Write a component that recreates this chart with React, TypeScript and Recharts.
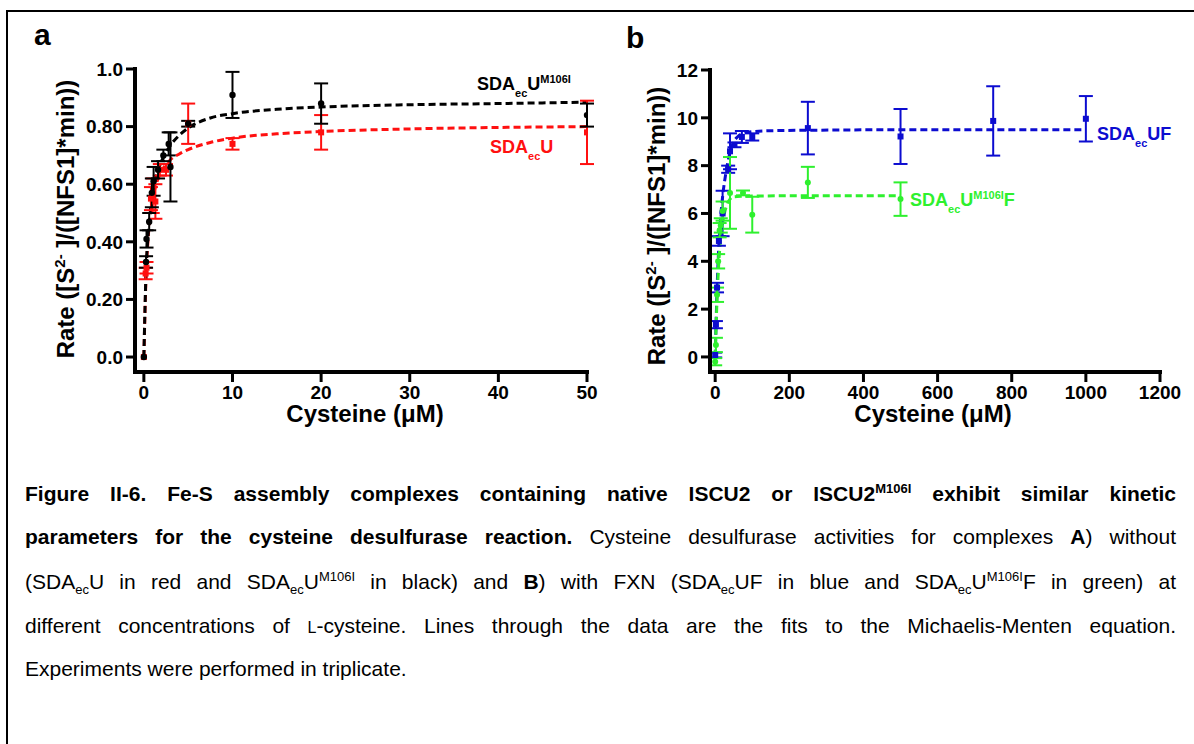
import React from 'react';
import { ComposedChart, Scatter, Line, XAxis, YAxis, ErrorBar } from 'recharts';

const FONT = '"Liberation Sans", Arial, Helvetica, sans-serif';

// ---- panel a: complexes without FXN ----
const aXTicks = [0, 10, 20, 30, 40, 50];
const aYTicks = [0, 0.2, 0.4, 0.6, 0.8, 1.0];
const aYTickLabels = ['0.0', '0.20', '0.40', '0.60', '0.80', '1.0'];

// SDAecU(M106I), black
const m106iPoints = [
  { x: 0, y: 0, e: 0 },
  { x: 0.25, y: 0.33, e: 0.02 },
  { x: 0.3, y: 0.41, e: 0.03 },
  { x: 0.6, y: 0.47, e: 0.03 },
  { x: 0.9, y: 0.57, e: 0.05 },
  { x: 1.1, y: 0.61, e: 0.05 },
  { x: 1.6, y: 0.65, e: 0.03 },
  { x: 2.2, y: 0.7, e: 0.02 },
  { x: 2.8, y: 0.74, e: 0.04 },
  { x: 3.0, y: 0.66, e: 0.12 },
  { x: 5, y: 0.81, e: 0.01 },
  { x: 10, y: 0.91, e: 0.08 },
  { x: 20, y: 0.88, e: 0.07 },
  { x: 50, y: 0.84, e: 0.04 },
];
const m106iFit = [
  { x: 0, y: 0 }, { x: 0.25, y: 0.3 }, { x: 0.5, y: 0.43 }, { x: 0.75, y: 0.51 },
  { x: 1, y: 0.57 }, { x: 1.5, y: 0.64 }, { x: 2, y: 0.68 }, { x: 3, y: 0.735 },
  { x: 4, y: 0.77 }, { x: 5, y: 0.795 }, { x: 7.5, y: 0.83 }, { x: 10, y: 0.845 },
  { x: 15, y: 0.86 }, { x: 20, y: 0.868 }, { x: 30, y: 0.876 }, { x: 40, y: 0.88 },
  { x: 50, y: 0.885 },
];

// SDAecU, red
const nativePoints = [
  { x: 0, y: 0, e: 0 },
  { x: 0.2, y: 0.29, e: 0.02 },
  { x: 0.3, y: 0.31, e: 0.02 },
  { x: 0.8, y: 0.55, e: 0.04 },
  { x: 1.0, y: 0.56, e: 0.06 },
  { x: 1.3, y: 0.54, e: 0.06 },
  { x: 1.8, y: 0.65, e: 0.02 },
  { x: 2.5, y: 0.65, e: 0.02 },
  { x: 5, y: 0.81, e: 0.07 },
  { x: 10, y: 0.74, e: 0.02 },
  { x: 20, y: 0.78, e: 0.06 },
  { x: 50, y: 0.78, e: 0.11 },
];
const nativeFit = [
  { x: 0, y: 0 }, { x: 0.25, y: 0.28 }, { x: 0.5, y: 0.42 }, { x: 0.75, y: 0.5 },
  { x: 1, y: 0.55 }, { x: 1.5, y: 0.61 }, { x: 2, y: 0.645 }, { x: 3, y: 0.685 },
  { x: 4, y: 0.705 }, { x: 5, y: 0.72 }, { x: 7.5, y: 0.745 }, { x: 10, y: 0.76 },
  { x: 15, y: 0.775 }, { x: 20, y: 0.783 }, { x: 30, y: 0.792 }, { x: 40, y: 0.797 },
  { x: 50, y: 0.8 },
];

// ---- panel b: complexes with FXN ----
const bXTicks = [0, 200, 400, 600, 800, 1000, 1200];
const bYTicks = [0, 2, 4, 6, 8, 10, 12];

// SDAecUF, blue
const ufPoints = [
  { x: 0, y: 0.08, e: 0.1 },
  { x: 2, y: 1.35, e: 0.15 },
  { x: 5, y: 2.9, e: 0.2 },
  { x: 10, y: 4.85, e: 0.2 },
  { x: 20, y: 6.0, e: 0.95 },
  { x: 35, y: 7.85, e: 0.15 },
  { x: 40, y: 8.6, e: 0.75 },
  { x: 52, y: 8.87, e: 0.1 },
  { x: 72, y: 9.2, e: 0.25 },
  { x: 100, y: 9.2, e: 0.15 },
  { x: 250, y: 9.57, e: 1.1 },
  { x: 500, y: 9.22, e: 1.15 },
  { x: 750, y: 9.87, e: 1.45 },
  { x: 1000, y: 9.96, e: 0.95 },
];
const ufFit = [
  { x: 0, y: 0 }, { x: 5, y: 2.8 }, { x: 10, y: 4.7 }, { x: 15, y: 5.9 },
  { x: 20, y: 6.7 }, { x: 30, y: 7.8 }, { x: 40, y: 8.55 }, { x: 50, y: 9.0 },
  { x: 60, y: 9.2 }, { x: 75, y: 9.35 }, { x: 100, y: 9.42 }, { x: 150, y: 9.46 },
  { x: 250, y: 9.48 }, { x: 500, y: 9.5 }, { x: 750, y: 9.5 }, { x: 1000, y: 9.5 },
];

// SDAecU(M106I)F, green
const m106iFPoints = [
  { x: 0, y: -0.2, e: 0.15 },
  { x: 2, y: 0.5, e: 0.3 },
  { x: 5, y: 2.6, e: 0.3 },
  { x: 8, y: 4.0, e: 0.3 },
  { x: 12, y: 5.3, e: 0.3 },
  { x: 15, y: 5.5, e: 0.3 },
  { x: 20, y: 6.1, e: 0.4 },
  { x: 40, y: 6.86, e: 1.5 },
  { x: 75, y: 6.86, e: 0.1 },
  { x: 100, y: 5.95, e: 0.75 },
  { x: 250, y: 7.3, e: 0.65 },
  { x: 500, y: 6.6, e: 0.7 },
];
const m106iFFit = [
  { x: 0, y: 0 }, { x: 5, y: 2.4 }, { x: 10, y: 4.0 }, { x: 15, y: 5.0 },
  { x: 20, y: 5.6 }, { x: 30, y: 6.3 }, { x: 40, y: 6.6 }, { x: 50, y: 6.7 },
  { x: 75, y: 6.72 }, { x: 100, y: 6.73 }, { x: 250, y: 6.74 }, { x: 500, y: 6.74 },
];

const RED = '#ff1010';
const BLUE = '#0c0cd0';
const GREEN = '#2ef02e';

const dot = (color: string, r: number) => (p: any) =>
  <circle cx={p.cx} cy={p.cy} r={r} fill={color} />;
const square = (color: string, s: number) => (p: any) =>
  <rect x={p.cx - s / 2} y={p.cy - s / 2} width={s} height={s} fill={color} />;

const tickStyle = { fill: '#000', fontSize: 19, fontWeight: 700, fontFamily: FONT };
const axisLine = { stroke: '#000', strokeWidth: 4, strokeLinecap: 'square' as const };
const tickLine = { stroke: '#000', strokeWidth: 3 };

function SeriesLabel({ left, baseline, color, parts }: { left: number; baseline: number; color: string; parts: [string, string][] }) {
  return (
    <div style={{ position: 'absolute', left, top: baseline - 15, color, fontSize: 18, fontWeight: 700, lineHeight: '18px', whiteSpace: 'nowrap' }}>
      {parts.map(([kind, text], i) =>
        kind === 'sub' ? (
          <span key={i} style={{ fontSize: 11, position: 'relative', top: 7 }}>{text}</span>
        ) : kind === 'sup' ? (
          <span key={i} style={{ fontSize: 11, position: 'relative', top: -7 }}>{text}</span>
        ) : (
          <span key={i}>{text}</span>
        )
      )}
    </div>
  );
}

function YTitle({ cx, cy }: { cx: number; cy: number }) {
  return (
    <div style={{ position: 'absolute', left: cx, top: cy, transform: 'translate(-50%, -50%) rotate(-90deg)', fontSize: 24, fontWeight: 700, whiteSpace: 'nowrap', lineHeight: '24px' }}>
      Rate ([S<span style={{ fontSize: 15, verticalAlign: 'super', lineHeight: 0 }}>2-</span> ]/([NFS1]*min))
    </div>
  );
}

function XTitle({ cx, cy }: { cx: number; cy: number }) {
  return (
    <div style={{ position: 'absolute', left: cx, top: cy, transform: 'translate(-50%, -50%)', fontSize: 24, fontWeight: 700, whiteSpace: 'nowrap', lineHeight: '20px' }}>
      Cysteine (μM)
    </div>
  );
}

const sub = (t: string) => <span style={{ fontSize: 13, verticalAlign: 'sub', lineHeight: 0 }}>{t}</span>;
const sup = (t: string) => <span style={{ fontSize: 13, verticalAlign: 'super', lineHeight: 0 }}>{t}</span>;

function CaptionLine({ top, justify = true, children }: { top: number; justify?: boolean; children: React.ReactNode }) {
  return (
    <div style={{ position: 'absolute', left: 25, top, width: 1151, fontSize: 21, lineHeight: '24px', textAlign: justify ? 'justify' : 'left', textAlignLast: justify ? 'justify' : 'left', whiteSpace: 'nowrap' as any }}>
      {children}
    </div>
  );
}

export default function App() {
  return (
    <div style={{ position: 'absolute', left: 0, top: 0, width: 1194, height: 744, overflow: 'hidden', background: '#fff', fontFamily: FONT, color: '#000' }}>
      <div style={{ position: 'absolute', left: 6, top: 10, width: 1400, height: 1000, border: '2px solid #000' }} />

      {/* panel a */}
      <div style={{ position: 'absolute', left: 0, top: 0 }}>
        <ComposedChart width={600} height={440} margin={{ top: 69, right: 13, bottom: 0, left: 0 }}>
          <XAxis dataKey="x" type="number" domain={[-1, 50]} ticks={aXTicks} allowDataOverflow
            tick={tickStyle} axisLine={axisLine} tickLine={tickLine} tickSize={10} tickMargin={4} height={68} />
          <YAxis type="number" domain={[-0.052, 1.0]} ticks={aYTicks} allowDataOverflow width={135}
            tickFormatter={(v: number) => aYTickLabels[aYTicks.indexOf(v)] ?? String(v)}
            tick={tickStyle} axisLine={axisLine} tickLine={tickLine} tickSize={9} tickMargin={3} />
          <Line data={nativeFit} dataKey="y" type="monotone" stroke={RED} strokeWidth={3} strokeDasharray="7 4" dot={false} isAnimationActive={false} />
          <Line data={m106iFit} dataKey="y" type="monotone" stroke="#000" strokeWidth={3} strokeDasharray="7 4" dot={false} isAnimationActive={false} />
          <Scatter data={nativePoints} dataKey="y" shape={square(RED, 6)} isAnimationActive={false}>
            <ErrorBar dataKey="e" direction="y" width={7} stroke={RED} strokeWidth={2} />
          </Scatter>
          <Scatter data={m106iPoints} dataKey="y" shape={dot('#000', 3.2)} isAnimationActive={false}>
            <ErrorBar dataKey="e" direction="y" width={7} stroke="#000" strokeWidth={2} />
          </Scatter>
        </ComposedChart>
      </div>

      {/* panel b */}
      <div style={{ position: 'absolute', left: 600, top: 0 }}>
        <ComposedChart width={594} height={440} margin={{ top: 70, right: 34, bottom: 0, left: 0 }}>
          <XAxis dataKey="x" type="number" domain={[-14, 1200]} ticks={bXTicks} allowDataOverflow
            tick={tickStyle} axisLine={axisLine} tickLine={tickLine} tickSize={10} tickMargin={4} height={68} />
          <YAxis type="number" domain={[-0.63, 12]} ticks={bYTicks} allowDataOverflow width={110}
            tick={tickStyle} axisLine={axisLine} tickLine={tickLine} tickSize={9} tickMargin={3} />
          <Line data={ufFit} dataKey="y" type="monotone" stroke={BLUE} strokeWidth={3} strokeDasharray="7 4" dot={false} isAnimationActive={false} />
          <Line data={m106iFFit} dataKey="y" type="monotone" stroke={GREEN} strokeWidth={3} strokeDasharray="7 4" dot={false} isAnimationActive={false} />
          <Scatter data={ufPoints} dataKey="y" shape={square(BLUE, 6)} isAnimationActive={false}>
            <ErrorBar dataKey="e" direction="y" width={7} stroke={BLUE} strokeWidth={2} />
          </Scatter>
          <Scatter data={m106iFPoints} dataKey="y" shape={dot(GREEN, 3)} isAnimationActive={false}>
            <ErrorBar dataKey="e" direction="y" width={7} stroke={GREEN} strokeWidth={2} />
          </Scatter>
        </ComposedChart>
      </div>

      {/* panel letters and axis titles */}
      <div style={{ position: 'absolute', left: 34, top: 20, fontSize: 30, fontWeight: 700, lineHeight: '30px' }}>a</div>
      <div style={{ position: 'absolute', left: 626, top: 23, fontSize: 30, fontWeight: 700, lineHeight: '30px' }}>b</div>
      <YTitle cx={66} cy={219} />
      <YTitle cx={657} cy={226} />
      <XTitle cx={365} cy={414} />
      <XTitle cx={933} cy={414} />

      {/* series labels */}
      <SeriesLabel left={477} baseline={90} color="#000" parts={[['t', 'SDA'], ['sub', 'ec'], ['t', 'U'], ['sup', 'M106I']]} />
      <SeriesLabel left={490} baseline={153} color={RED} parts={[['t', 'SDA'], ['sub', 'ec'], ['t', 'U']]} />
      <SeriesLabel left={1097} baseline={140} color={BLUE} parts={[['t', 'SDA'], ['sub', 'ec'], ['t', 'UF']]} />
      <SeriesLabel left={910} baseline={206} color={GREEN} parts={[['t', 'SDA'], ['sub', 'ec'], ['t', 'U'], ['sup', 'M106I'], ['t', 'F']]} />

      {/* caption */}
      <CaptionLine top={482}>
        <b>Figure II-6. Fe-S assembly complexes containing native ISCU2 or ISCU2{sup('M106I')} exhibit similar kinetic</b>
      </CaptionLine>
      <CaptionLine top={525}>
        <b>parameters for the cysteine desulfurase reaction.</b> Cysteine desulfurase activities for complexes <b>A</b>) without
      </CaptionLine>
      <CaptionLine top={570}>
        (SDA{sub('ec')}U in red and SDA{sub('ec')}U{sup('M106I')} in black) and <b>B</b>) with FXN (SDA{sub('ec')}UF in blue and SDA{sub('ec')}U{sup('M106I')}F in green) at
      </CaptionLine>
      <CaptionLine top={614}>
        different concentrations of <span style={{ fontSize: 16 }}>L</span>-cysteine. Lines through the data are the fits to the Michaelis-Menten equation.
      </CaptionLine>
      <CaptionLine top={657} justify={false}>
        Experiments were performed in triplicate.
      </CaptionLine>
    </div>
  );
}
